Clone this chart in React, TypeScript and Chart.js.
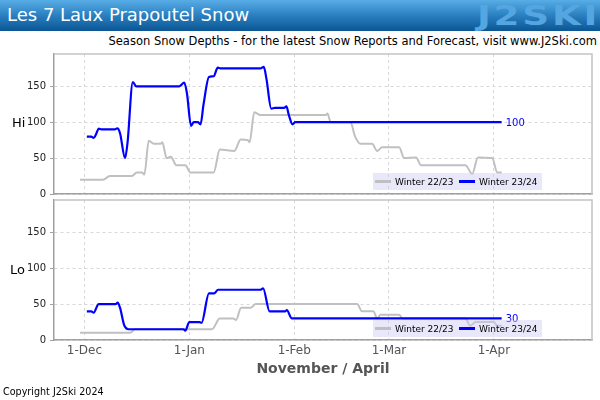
import React, { useEffect, useRef } from "react";
import { Chart, registerables } from "chart.js";

Chart.register(...registerables);

// x values are days counted from 1-Dec (1-Dec = 0)
const monthTickDays = [0, 31, 62, 90, 121];
const monthTickLabels = ["1-Dec", "1-Jan", "1-Feb", "1-Mar", "1-Apr"];
const yTickValues = [0, 50, 100, 150];
const seriesNames = ["Winter 22/23", "Winter 23/24"];

const hi2324Days = [0.7, 2, 2.7, 3.5, 4.2, 5, 9, 9.7, 10.5, 12, 12.7, 14.3, 15.3, 28, 29.5, 30.3, 31.5, 32.3, 33.5, 34.3, 35.2, 36.8, 38.2, 39.4, 40.2, 52, 53, 53.8, 55.2, 56.3, 59, 59.7, 60.4, 61.5, 62.3, 123.3];
const hi2324Values = [80, 80, 78, 84, 91, 90, 90, 91.5, 85, 50, 70, 156, 150, 150, 155, 140, 95, 100, 100, 97, 125, 163, 164, 176, 175, 175, 177, 160, 119, 120, 120, 122, 110, 97, 100, 100];

const hi2223Days = [-1.3, 5.5, 7.5, 14, 15.5, 17, 17.7, 19, 20.5, 22.5, 23, 24.3, 25.5, 27.2, 29.8, 31.3, 38.2, 40, 44.3, 46.2, 48.3, 48.8, 50.2, 52, 71.3, 71.8, 72.8, 78.6, 80, 81.6, 85, 86.5, 88, 93, 94.5, 98, 99.5, 112.6, 114.6, 116.3, 120.5, 122, 123.3];
const hi2223Values = [20, 20, 25, 25, 30, 30, 27, 74, 70, 70, 72, 50, 52, 40, 40, 30, 30, 62, 60, 76, 75, 72, 114, 110, 110, 112, 100, 100, 80, 70, 70, 60, 65, 65, 50, 51, 40, 40, 28, 51, 50, 30, 30];

const lo2324Days = [0.7, 2, 2.7, 4.2, 9.2, 9.8, 10.5, 11.8, 13, 29.3, 29.8, 31, 34, 34.6, 36.8, 38.3, 39.5, 52, 52.8, 54.7, 59.3, 59.8, 61.3, 123.3];
const lo2324Values = [40, 40, 38, 50, 50, 52, 45, 20, 15, 15, 13, 25, 25, 24, 65, 65, 70, 70, 72, 40, 40, 41.5, 30, 30];

const lo2223Days = [-1.3, 13.5, 15, 37.7, 40, 44, 44.8, 46.3, 49.2, 50.6, 80.6, 82, 85.4, 86.5, 87.5, 93, 94, 112.6, 114, 115.6, 121, 122, 123.3];
const lo2223Values = [10, 10, 15, 15, 30, 30, 28, 45, 45, 50, 50, 40, 40, 30, 35, 35, 30, 30, 20, 25, 25, 20, 20];

const BLUE = "#0000ff";
const GREY = "#c0c0c0";
const FONT = "'DejaVu Sans', Verdana, sans-serif";

const toPoints = (days: number[], vals: number[]) => days.map((d, i) => ({ x: d, y: vals[i] }));

const endLabelPlugin = {
  id: "endLabel",
  afterDatasetsDraw(chart: any) {
    const ctx = chart.ctx;
    chart.data.datasets.forEach((ds: any, i: number) => {
      if (!ds.endLabel) return;
      const meta = chart.getDatasetMeta(i);
      const last = meta.data[meta.data.length - 1];
      if (!last) return;
      ctx.save();
      ctx.fillStyle = ds.borderColor;
      ctx.font = `10px ${FONT}`;
      ctx.textBaseline = "middle";
      ctx.textAlign = "left";
      ctx.fillText(String(ds.data[ds.data.length - 1].y), last.x + 4, last.y + 1);
      ctx.restore();
    });
  },
};

const frameBorderPlugin = {
  id: "frameBorder",
  afterDraw(chart: any) {
    const { ctx, chartArea } = chart;
    ctx.save();
    ctx.strokeStyle = "#c4c4c4";
    ctx.lineWidth = 1.5;
    ctx.beginPath();
    ctx.moveTo(chartArea.left, chartArea.top);
    ctx.lineTo(chartArea.right, chartArea.top);
    ctx.lineTo(chartArea.right, chartArea.bottom);
    ctx.stroke();
    ctx.restore();
  },
};

function makeConfig(
  blue: { x: number; y: number }[],
  grey: { x: number; y: number }[],
  showX: boolean,
  pad: { top: number; right: number; bottom: number }
): any {
  const lineCommon = {
    pointRadius: 0,
    cubicInterpolationMode: "monotone",
    fill: false,
  };
  return {
    type: "line",
    data: {
      datasets: [
        { ...lineCommon, label: seriesNames[1], data: blue, borderColor: BLUE, borderWidth: 2.2, endLabel: true },
        { ...lineCommon, label: seriesNames[0], data: grey, borderColor: GREY, borderWidth: 2 },
      ],
    },
    options: {
      animation: false,
      responsive: false,
      maintainAspectRatio: false,
      events: [],
      layout: { padding: { left: 0, top: pad.top, right: pad.right, bottom: pad.bottom } },
      plugins: { legend: { display: false }, tooltip: { enabled: false }, title: { display: false } },
      scales: {
        x: {
          type: "linear",
          min: -9,
          max: 150,
          afterBuildTicks: (scale: any) => {
            scale.ticks = monthTickDays.map((v) => ({ value: v }));
          },
          afterFit: (scale: any) => {
            scale.height = showX ? 45 : 0;
            scale.paddingLeft = 0;
            scale.paddingRight = 0;
          },
          ticks: {
            display: showX,
            autoSkip: false,
            maxRotation: 0,
            padding: 4,
            color: "#555",
            font: { family: FONT, size: 12 },
            callback: (_v: any, i: number) => monthTickLabels[i],
          },
          grid: { color: "#d8d8d8", lineWidth: 1, drawTicks: false },
          border: { display: true, color: "#a0a0a0", width: 1.5, dash: [3, 3] },
        },
        y: {
          type: "linear",
          min: 0,
          max: 195,
          afterBuildTicks: (scale: any) => {
            scale.ticks = yTickValues.map((v) => ({ value: v }));
          },
          afterFit: (scale: any) => {
            scale.width = 54;
            scale.paddingTop = 0;
            scale.paddingBottom = 0;
          },
          ticks: {
            color: "#222",
            padding: 4,
            font: { family: FONT, size: 10 },
          },
          grid: { color: "#d8d8d8", lineWidth: 1, drawTicks: true, tickLength: 4, tickColor: "#a0a0a0" },
          border: { display: true, color: "#a0a0a0", width: 1.5, dash: [3, 3] },
        },
      },
    },
    plugins: [endLabelPlugin, frameBorderPlugin],
  };
}

function Legend({ top }: { top: number }) {
  const item = (color: string, text: string, left: number) => (
    <div style={{ position: "absolute", left, top: 0, height: 17, display: "flex", alignItems: "center" }}>
      <div style={{ width: 16, height: 2.5, background: color, marginRight: 4 }} />
      <span style={{ fontSize: 9, color: "#000", fontFamily: FONT }}>{text}</span>
    </div>
  );
  return (
    <div
      style={{
        position: "absolute",
        left: 373,
        top,
        width: 169,
        height: 17,
        background: "rgba(205,205,245,0.45)",
      }}
    >
      {item(GREY, seriesNames[0], 2)}
      {item(BLUE, seriesNames[1], 86)}
    </div>
  );
}

export default function App() {
  const topRef = useRef<HTMLCanvasElement>(null);
  const botRef = useRef<HTMLCanvasElement>(null);

  useEffect(() => {
    const c1 = new Chart(
      topRef.current as HTMLCanvasElement,
      makeConfig(toPoints(hi2324Days, hi2324Values), toPoints(hi2223Days, hi2223Values), false, { top: 4, right: 8, bottom: 6 })
    );
    const c2 = new Chart(
      botRef.current as HTMLCanvasElement,
      makeConfig(toPoints(lo2324Days, lo2324Values), toPoints(lo2223Days, lo2223Values), true, { top: 5, right: 8, bottom: 0 })
    );
    return () => {
      c1.destroy();
      c2.destroy();
    };
  }, []);

  return (
    <div
      style={{
        position: "absolute",
        left: 0,
        top: 0,
        width: 600,
        height: 400,
        background: "#fff",
        fontFamily: FONT,
        overflow: "hidden",
      }}
    >
      <div
        style={{
          position: "absolute",
          left: 0,
          top: 0,
          width: 600,
          height: 31,
          background: "linear-gradient(180deg, #58ade6 0%, #2a7fc0 50%, #0b5694 100%)",
        }}
      />
      <div style={{ position: "absolute", left: 7, top: 4, fontSize: 18, color: "#fff", whiteSpace: "nowrap" }}>
        Les 7 Laux Prapoutel Snow
      </div>
      <div
        style={{
          position: "absolute",
          left: 477,
          top: 0,
          fontSize: 27,
          fontWeight: "bold",
          color: "#55a5e0",
          letterSpacing: 2,
          whiteSpace: "nowrap",
          transform: "scaleX(1.38)",
          transformOrigin: "left top",
        }}
      >
        J2SKI
      </div>
      <div
        style={{
          position: "absolute",
          right: 3,
          top: 34,
          fontSize: 11.5,
          color: "#000",
          whiteSpace: "nowrap",
        }}
      >
        Season Snow Depths - for the latest Snow Reports and Forecast, visit www.J2Ski.com
      </div>
      <canvas ref={topRef} width={600} height={150} style={{ position: "absolute", left: 0, top: 50 }} />
      <canvas ref={botRef} width={600} height={190} style={{ position: "absolute", left: 0, top: 195 }} />
      <div style={{ position: "absolute", left: 12, top: 115, fontSize: 13, color: "#000" }}>Hi</div>
      <div style={{ position: "absolute", left: 10, top: 262, fontSize: 13, color: "#000" }}>Lo</div>
      <Legend top={173} />
      <Legend top={320} />
      <div
        style={{
          position: "absolute",
          left: 223,
          width: 200,
          top: 360,
          textAlign: "center",
          fontSize: 14,
          fontWeight: "bold",
          color: "#555",
        }}
      >
        November / April
      </div>
      <div style={{ position: "absolute", left: 3, top: 386, fontSize: 9.6, color: "#000" }}>Copyright J2Ski 2024</div>
    </div>
  );
}
